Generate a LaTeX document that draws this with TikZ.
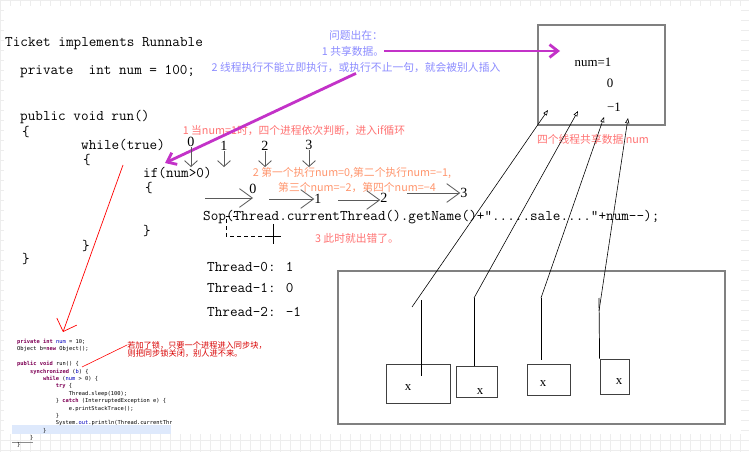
\documentclass[tikz,border=0pt]{standalone}
\usepackage{fontspec}
\setmainfont{Liberation Serif}
\newfontfamily\cjk{Noto Sans CJK SC}
\newfontfamily\snipfont{DejaVu Sans Mono}
\usetikzlibrary{arrows.meta}
\definecolor{hotpink}{RGB}{195,50,200}
\definecolor{noteblue}{RGB}{140,140,255}
\definecolor{notered}{RGB}{255,115,115}
\definecolor{noteorange}{RGB}{255,150,110}
\definecolor{boxgray}{RGB}{128,128,128}
\definecolor{arrowgray}{RGB}{90,90,90}
\definecolor{kwpurple}{RGB}{127,0,85}
\definecolor{fieldblue}{RGB}{0,0,192}
\definecolor{hilite}{RGB}{222,233,252}
\newcommand\kw[1]{\textcolor{kwpurple}{\bfseries #1}}
\newcommand\fld[1]{\textcolor{fieldblue}{#1}}
\newcommand\tabin[1]{\hspace*{#1\dimexpr 11pt\relax}}
\tikzset{
    codeline/.style={anchor=west, inner sep=0pt, font=\fontsize{12.6}{14}\ttfamily}, % Java lines
    bluenote/.style={inner sep=0pt, text=noteblue, font=\fontsize{9.2}{11}\cjk}, % problem notes
    rednote/.style={inner sep=0pt, text=notered, font=\fontsize{9.2}{11}\cjk},
    orangenote/.style={inner sep=0pt, text=noteorange, font=\fontsize{9.2}{11}\cjk},
    locknote/.style={inner sep=0pt, text=red!85!black, font=\fontsize{7}{8}\cjk},
    val/.style={inner sep=0pt, font=\fontsize{11}{13}\selectfont}, % values of num
    step num/.style={inner sep=0pt, font=\fontsize{12}{14}\selectfont}, % thread numbers
    hotarrow/.style={hotpink, line width=2.4pt, -{Straight Barb[length=7pt, width=11pt]}},
    downarrow/.style={arrowgray, line width=0.7pt, -{Straight Barb[length=5pt, width=11pt]}},
    flowarrow/.style={arrowgray, line width=0.7pt, -{Straight Barb[length=11pt, width=16pt]}},
    redarrow/.style={red, line width=0.6pt, -{Straight Barb[length=9pt, width=18pt]}},
    feed/.style={black, line width=0.5pt, -{Triangle[open, length=4.5pt, width=3.5pt]}},
    wire/.style={black, line width=0.6pt},
    sharebox/.style={draw=boxgray, line width=1.2pt},
    slot/.style={draw=black!75, line width=0.7pt, inner sep=0pt},
    gridline/.style={black!7, line width=0.4pt},
    snippet/.style={anchor=north west, align=left, inner sep=0pt, font=\fontsize{4.6}{6.3}\snipfont},
}

\begin{document}
\begin{tikzpicture}[x=0.03cm, y=-0.03cm]
    \useasboundingbox (0,0) rectangle (749,452);
    % Grid of the drawing board, seen at the edges
    \foreach \gx in {0,10,...,740} \draw[gridline] (\gx,0) -- (\gx,452);
    \foreach \gy in {0,10,...,450} \draw[gridline] (0,\gy) -- (749,\gy);
    \fill[white] (4,6) rectangle (741,434);

    % Java code
    \node[codeline] (cls)  at (5,44)    {Ticket implements Runnable};
    \node[codeline] (fld)  at (20,72)   {private\ \ int num = 100;};
    \node[codeline] (run)  at (20,117)  {public void run()};
    \node[codeline] (ob1)  at (22,132)  {\{};
    \node[codeline] (whl)  at (81,145)  {while(true)};
    \node[codeline] (ob2)  at (83,160)  {\{};
    \node[codeline] (cond) at (143,173) {if(num>0)};
    \node[codeline] (ob3)  at (145,188) {\{};
    \node[codeline] (sop)  at (203,217) {Sop(Thread.currentThread().getName()+”.....sale....”+num-{}-);};
    \node[codeline] (cb3)  at (143,231) {\}};
    \node[codeline] (cb2)  at (82,246)  {\}};
    \node[codeline] (cb1)  at (22,259)  {\}};

    % Output
    \node[codeline] (out0) at (207,267) {Thread-0: 1};
    \node[codeline] (out1) at (207,288) {Thread-1: 0};
    \node[codeline] (out2) at (207,312) {Thread-2: -1};

    % Notes
    \node[bluenote] (q0) at (356,35) {问题出在：};
    \node[bluenote] (q1) at (353,51) {1 共享数据。};
    \node[bluenote] (q2) at (356,68) {2 线程执行不能立即执行，或执行不止一句，就会被别人插入};
    \node[rednote] (n1) at (294,131) {1 当num=1时，四个进程依次判断，进入if循环};
    \node[orangenote] (n2a) at (352,173) {2 第一个执行num=0,第二个执行num=−1,};
    \node[orangenote] (n2b) at (357,188) {第三个num=−2，第四个num=−4};
    \node[rednote] (n3) at (357,238) {3 此时就出错了。};
    \node[rednote] (sharelbl) at (593,139) {四个线程共享数据 num};

    % Shared data
    \node[sharebox, minimum width=3.81cm, minimum height=3cm] (share) at (601.5,75) {};
    \node[val] (v1) at (593,62) {num=1};
    \node[val] (v2) at (610,83) {0};
    \node[val] (v3) at (614,107) {−1};

    \coordinate (hit) at (560,51);
    \coordinate (ifhit) at (165,163);
    \draw[hotarrow] (q1.east) -- (hit);
    \draw[hotarrow] (q2.south) -- (ifhit);

    % Threads passing the check
    \node[step num] (c0) at (191,142) {0};
    \node[step num] (c1) at (224,146) {1};
    \node[step num] (c2) at (265,146) {2};
    \node[step num] (c3) at (309,145) {3};
    \foreach \c in {c0,c1,c2,c3}
        \draw[downarrow] (\c.south) -- (\c.south |- cond.north);

    % Threads printing one after another
    \node[step num] (h0) at (253,189) {0};
    \node[step num] (h1) at (318,199) {1};
    \node[step num] (h2) at (384,198) {2};
    \node[step num] (h3) at (464,193) {3};
    \coordinate (s0) at (205,198);
    \coordinate (s1) at (269,199);
    \coordinate (s2) at (338,200);
    \coordinate (s3) at (407,193);
    \draw[flowarrow] (s0) -- (s0 -| h0);
    \draw[flowarrow] (s1) -- (s1 -| h1.west);
    \draw[flowarrow] (s2) -- (s2 -| h2.west);
    \draw[flowarrow] (s3) -- (s3 -| h3.west);

    \draw[dashed, line width=0.5pt] (237,216) -- (226,216) -- (226,236) -- (273,236);
    \draw[line width=0.5pt] (273,224) -- (273,244) (266,236) -- (281,236);

    % Fix with synchronized
    \coordinate (rtop) at (123,165);
    \coordinate (rtip) at (63,332);
    \draw[redarrow] (rtop) -- (rtip);
    \fill[hilite] (12,425) rectangle (171,434);
    \draw[black!45, line width=0.4pt] (12,442) -- (33,442);
    \begin{scope}
        \clip (0,330) rectangle (171,452);
        \node[snippet] (snip) at (17,339) {%
            \kw{private} \kw{int} \fld{num} = 10;\\
            Object b=\kw{new} Object();\\
            \mbox{}\\
            \kw{public} \kw{void} run() \{\\
            \tabin1\kw{synchronized} (\fld{b}) \{\\
            \tabin2\kw{while} (\fld{num} > 0) \{\\
            \tabin3\kw{try} \{\\
            \tabin4Thread.sleep(100);\\
            \tabin3\} \kw{catch} (InterruptedException e) \{\\
            \tabin4e.printStackTrace();\\
            \tabin3\}\\
            \tabin3System.\fld{out}.println(Thread.currentThread().getName());\\
            \tabin2\}\\
            \tabin1\}\\
            \}};
    \end{scope}
    \node[locknote] (lock1) at (197,345) {若加了锁，只要一个进程进入同步块，};
    \node[locknote] (lock2) at (185,353) {则把同步锁关闭，别人进不来。};
    \coordinate (lockb) at (82,367);
    \draw[red, line width=0.5pt] (lockb) -- (lock1.west);

    % Threads and their copies of x
    \draw[draw=boxgray, line width=1.1pt] (338,271) rectangle (725,424);
    \node[slot, minimum width=1.92cm, minimum height=1.17cm] (b1) at (418,383.5) {};
    \node[slot, minimum width=1.23cm, minimum height=0.93cm] (b2) at (476.5,381.5) {};
    \node[slot, minimum width=1.29cm, minimum height=0.93cm] (b3) at (548.5,379.5) {};
    \node[slot, minimum width=0.87cm, minimum height=1.05cm] (b4) at (614.5,376.5) {};
    \node[val] (x1) at (408,388) {x};
    \node[val] (x2) at (480,392) {x};
    \node[val] (x3) at (543,384) {x};
    \node[val] (x4) at (619,382) {x};

    \coordinate (v1) at (421,300);
    \coordinate (v1b) at (421,376);
    \coordinate (v2) at (474,298);
    \coordinate (v3) at (541,298);
    \coordinate (v3b) at (541,360);
    \coordinate (v4) at (599,298);
    \draw[wire] (v1) -- (v1b);
    \draw[wire] (v2) -- (v2 |- b2.north);
    \draw[wire] (v3) -- (v3b);
    \draw[wire] (v4) -- (b4.north west);

    \coordinate (f1) at (412,307);
    \coordinate (f4) at (599,311);
    \coordinate (a1) at (548,110);
    \coordinate (a2) at (578,111);
    \coordinate (a3) at (604,117);
    \coordinate (a4) at (628,118);
    \draw[feed] (f1) -- (a1);
    \draw[feed] (v2) -- (a2);
    \draw[feed] (v3) -- (a3);
    \draw[feed] (f4) -- (a4);
\end{tikzpicture}
\end{document}
